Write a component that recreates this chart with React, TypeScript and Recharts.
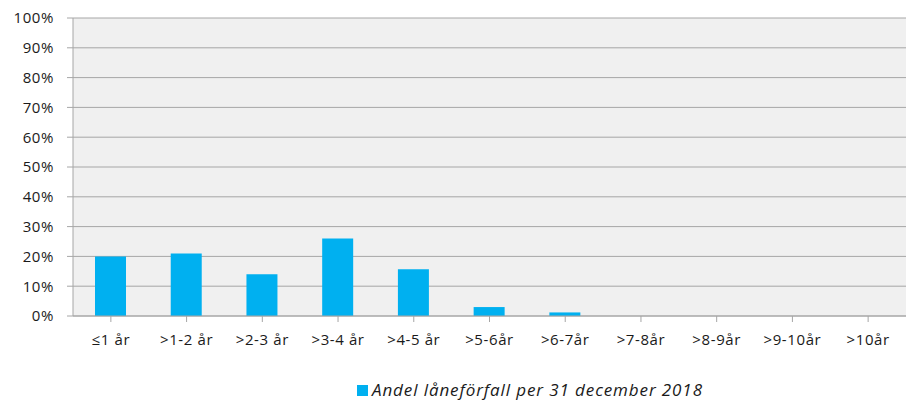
import { BarChart, Bar, XAxis, YAxis, CartesianGrid, Legend } from 'recharts';

const categories = ['≤1 år', '>1-2 år', '>2-3 år', '>3-4 år', '>4-5 år', '>5-6år', '>6-7år', '>7-8år', '>8-9år', '>9-10år', '>10år'];
const shares = [20, 21, 14, 26, 15.7, 3, 1.2, 0, 0, 0, 0];
const yTicks = [0, 10, 20, 30, 40, 50, 60, 70, 80, 90, 100];
const seriesName = 'Andel låneförfall per 31 december 2018';

const data = categories.map((c, i) => ({ name: c, value: shares[i] }));

const FONT = '"Open Sans", Lato, sans-serif';
const BLUE = '#00b0f0';
const GRID = '#a6a6a6';
const tickStyle = { fontFamily: FONT, fontSize: 15, fill: '#1a1a1a', letterSpacing: 0.6 };

function LegendBox() {
  return (
    <div style={{ display: 'flex', alignItems: 'center', fontFamily: FONT, fontStyle: 'italic', fontSize: 17, letterSpacing: 0.9, color: '#1a1a1a', lineHeight: '20px' }}>
      <span style={{ display: 'inline-block', width: 11, height: 11, background: BLUE, marginRight: 4 }} />
      <span>{seriesName}</span>
    </div>
  );
}

export default function App() {
  return (
    <div style={{ position: 'absolute', top: 0, left: 0, width: 912, height: 401, background: '#fff' }}>
      <BarChart width={912} height={401} data={data} margin={{ top: 18, right: 6, left: 0, bottom: 0 }}>
        <CartesianGrid vertical={false} stroke={GRID} fill="#f0f0f0" />
        <XAxis
          dataKey="name"
          height={65}
          interval={0}
          stroke={GRID}
          tickSize={6}
          tickMargin={12}
          tick={tickStyle}
          tickLine={{ stroke: GRID }}
        />
        <YAxis
          width={73}
          domain={[0, 100]}
          ticks={yTicks}
          interval={0}
          stroke={GRID}
          tickSize={6}
          tickMargin={13}
          tickFormatter={(v: number) => `${v}%`}
          tick={tickStyle}
        />
        <Legend
          content={() => <LegendBox />}
          wrapperStyle={{ left: 357, bottom: 1, width: 'auto' }}
        />
        <Bar dataKey="value" name={seriesName} fill={BLUE} barSize={31} isAnimationActive={false} />
      </BarChart>
    </div>
  );
}
